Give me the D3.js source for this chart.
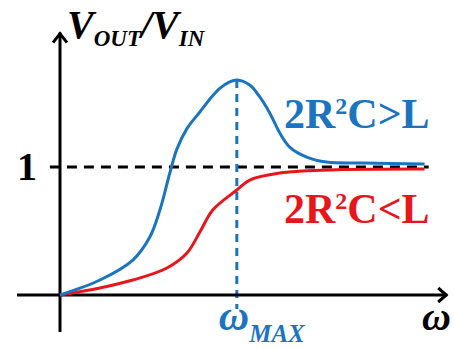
<!DOCTYPE html>
<html>
<head>
<meta charset="utf-8">
<script src="https://cdn.jsdelivr.net/npm/d3@7"></script>
<style>
  html, body { margin: 0; padding: 0; background: #fff; }
  svg { display: block; }
</style>
</head>
<body>
<svg id="chart" width="454" height="349"></svg>
<script>
// Normalised frequency (omega / omega_MAX) and gain |V_OUT / V_IN|
const omegaOver = [0, 0.226, 0.412, 0.508, 0.565, 0.621, 0.661, 0.718, 0.791, 0.847, 0.904, 0.96, 1.0, 1.073, 1.13, 1.186, 1.243, 1.299, 1.395, 1.508, 1.712, 2.062];
const gainOver  = [0, 0.117, 0.273, 0.453, 0.664, 0.953, 1.14, 1.3, 1.43, 1.53, 1.615, 1.665, 1.68, 1.64, 1.547, 1.422, 1.266, 1.156, 1.078, 1.039, 1.031, 1.023];

const omegaUnder = [0, 0.226, 0.412, 0.605, 0.718, 0.791, 0.864, 1.0, 1.073, 1.243, 1.525, 2.062];
const gainUnder  = [0, 0.055, 0.117, 0.211, 0.328, 0.492, 0.664, 0.82, 0.898, 0.953, 0.977, 0.984];

const yTicks = [1];
const omegaMax = 1;

const BLUE = "#1b74bf";
const RED = "#e8161c";
const SERIF = "Liberation Serif";

const svg = d3.select("#chart");

const x = d3.scaleLinear().domain([0, 2.2]).range([60, 449]);
const y = d3.scaleLinear().domain([0, 1]).range([295, 167]);

// Reference line at unity gain
svg.append("line")
  .attr("x1", x(-0.057)).attr("x2", x(2.085))
  .attr("y1", y(1)).attr("y2", y(1))
  .attr("stroke", "#000").attr("stroke-width", 3)
  .attr("stroke-dasharray", "10 7");

// Marker at the resonance frequency
svg.append("line")
  .attr("x1", x(omegaMax)).attr("x2", x(omegaMax))
  .attr("y1", y(1.68)).attr("y2", y(-0.11))
  .attr("stroke", BLUE).attr("stroke-width", 3)
  .attr("stroke-dasharray", "8 6");

// Axes with open arrow heads
const axisG = svg.append("g").attr("stroke", "#000").attr("stroke-width", 3).attr("fill", "none");
axisG.append("line")
  .attr("x1", x(0)).attr("x2", x(0))
  .attr("y1", y(-0.29)).attr("y2", y(2.05));
axisG.append("polyline")
  .attr("points", [[x(0) - 7, y(2.05) + 10], [x(0), y(2.05) + 1], [x(0) + 7, y(2.05) + 10]].join(" "));
axisG.append("line")
  .attr("x1", x(-0.243)).attr("x2", x(2.19))
  .attr("y1", y(0)).attr("y2", y(0));
axisG.append("polyline")
  .attr("points", [[x(2.19) - 9, y(0) - 7], [x(2.19) - 1, y(0)], [x(2.19) - 9, y(0) + 7]].join(" "));

// Y tick label
const yAxis = d3.axisLeft(y).tickValues(yTicks).tickSize(0).tickPadding(23).tickFormat(d3.format("d"));
const yg = svg.append("g").attr("transform", `translate(${x(0)},0)`).call(yAxis)
  .attr("font-family", SERIF).attr("font-size", 40);
yg.select(".domain").remove();
yg.selectAll("text")
  .attr("font-size", 40).attr("font-family", SERIF).attr("font-weight", "bold")
  .attr("fill", "#000");

// Response curves
const line = d3.line().x(d => x(d[0])).y(d => y(d[1])).curve(d3.curveCatmullRom.alpha(0.5));

svg.append("path")
  .datum(d3.zip(omegaUnder, gainUnder))
  .attr("d", line)
  .attr("fill", "none").attr("stroke", RED).attr("stroke-width", 3);

svg.append("path")
  .datum(d3.zip(omegaOver, gainOver))
  .attr("d", line)
  .attr("fill", "none").attr("stroke", BLUE).attr("stroke-width", 3);

function label(xPos, yPos) {
  return svg.append("text").attr("x", xPos).attr("y", yPos)
    .attr("font-family", SERIF).attr("font-weight", "bold");
}

// Axis title
const title = label(67, 38).attr("font-style", "italic").attr("fill", "#000");
title.append("tspan").attr("font-size", 40).text("V");
title.append("tspan").attr("font-size", 23).attr("dy", 8).text("OUT");
title.append("tspan").attr("font-size", 40).attr("dy", -8).text("/V");
title.append("tspan").attr("font-size", 23).attr("dy", 8).text("IN");

// Curve labels
function conditionLabel(yPos, op, color) {
  const t = label(284, yPos).attr("fill", color).attr("font-size", 42);
  t.append("tspan").text("2R");
  t.append("tspan").attr("font-size", 24).attr("dy", -14).text("2");
  t.append("tspan").attr("dy", 14).text("C" + op + "L");
}
conditionLabel(128, ">", BLUE);
conditionLabel(223, "<", RED);

// Frequency labels
const wm = label(x(omegaMax) - 18, 330).attr("fill", BLUE).attr("font-style", "italic");
wm.append("tspan").attr("font-size", 42).text("ω");
wm.append("tspan").attr("font-size", 25).attr("dy", 12).text("MAX");

label(422, 330).attr("font-size", 40).attr("font-style", "italic").attr("fill", "#000").text("ω");
</script>
</body>
</html>
